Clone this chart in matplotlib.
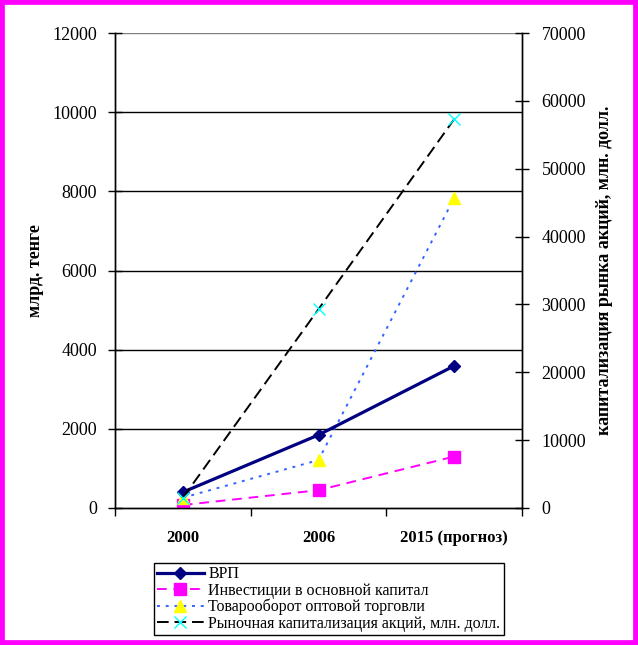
import matplotlib
matplotlib.use("Agg")
import matplotlib.pyplot as plt
from matplotlib.patches import Rectangle

# --------------------------------------------------------------------------
# Data
# --------------------------------------------------------------------------
years = ["2000", "2006", "2015 (прогноз)"]
vrp = [400, 1845, 3590]                # ВРП, млрд. тенге
investments = [75, 450, 1300]          # Инвестиции в основной капитал
trade = [260, 1210, 7830]              # Товарооборот оптовой торговли
capitalization = [1500, 29300, 57300]  # Рыночная капитализация, млн. долл. (right axis)

left_ticks = [0, 2000, 4000, 6000, 8000, 10000, 12000]
right_ticks = [0, 10000, 20000, 30000, 40000, 50000, 60000, 70000]

SERIF = "Liberation Serif"
plt.rcParams["font.family"] = [SERIF, "DejaVu Serif"]

fig = plt.figure(figsize=(6.38, 6.45), dpi=100)
W, H = 638, 645
ax = fig.add_axes([115 / W, 1 - 508 / H, (522 - 115) / W, (508 - 33) / H])
ax2 = ax.twinx()

x = [i + 0.5 for i in range(len(years))]

l1, = ax.plot(x, vrp, color="#000080", lw=2.3, marker="D", ms=6.5,
              label="ВРП", zorder=5)
l2, = ax.plot(x, investments, color="#FF00FF", lw=1.4, ls=(0, (5, 3.5)),
              marker="s", ms=8, label="Инвестиции в основной капитал", zorder=4)
l3, = ax.plot(x, trade, color="#3366FF", lw=1.4, ls=(0, (1.5, 3)),
              marker="^", ms=8.5, mfc="#FFFF00", mec="#FFFF00",
              label="Товарооборот оптовой торговли", zorder=4)
l4, = ax2.plot(x, capitalization, color="black", lw=1.4, ls=(0, (6, 3)),
               marker="x", ms=8, mec="#00FFFF", mew=1.0,
               label="Рыночная капитализация акций, млн. долл.", zorder=4)

# axes / scales
ax.set_xlim(0, len(years))
ax.set_ylim(0, 12000)
ax2.set_ylim(0, 70000)
ax.set_yticks(left_ticks)
ax.set_yticklabels([str(v) for v in left_ticks])
ax2.set_yticks(right_ticks)
ax2.set_yticklabels([str(v) for v in right_ticks])

ax.set_xticks(range(len(years) + 1))
ax.set_xticklabels([])
ax.set_xticks(x, minor=True)
ax.set_xticklabels(years, minor=True, fontweight="bold", fontsize=12)
ax.tick_params(axis="x", which="major", direction="out", length=6, width=1)
ax.tick_params(axis="x", which="minor", length=0, pad=16)
ax.tick_params(axis="y", direction="inout", length=10, width=1, labelsize=13, pad=8)
ax2.tick_params(axis="y", direction="inout", length=10, width=1, labelsize=13, pad=9)

for g in left_ticks[1:-1]:
    ax.axhline(g, color="black", lw=1, zorder=1)
ax.axhline(12000, color="#808080", lw=1, zorder=1)

for a in (ax, ax2):
    a.spines["top"].set_visible(False)
    for s in ("left", "right", "bottom"):
        a.spines[s].set_color("black")
        a.spines[s].set_linewidth(1)

ax.set_ylabel("млрд. тенге", fontsize=13, fontweight="bold")
ax.yaxis.set_label_coords(-(115 - 44) / (522 - 115), 0.5)
ax2.set_ylabel("капитализация рынка акций, млн. долл.", fontsize=13,
               fontweight="bold")
ax2.yaxis.set_label_coords(1 + (596 - 522) / (522 - 115), 0.5)

leg = fig.legend(handles=[l1, l2, l3, l4], loc="upper left",
                 bbox_to_anchor=(154 / W, 1 - 563 / H), fontsize=11.5,
                 frameon=True, fancybox=False, framealpha=1, edgecolor="black",
                 handlelength=2.9, handletextpad=0.3, labelspacing=0.02,
                 borderpad=0.2, borderaxespad=0)
leg.get_frame().set_linewidth(1)

# magenta frame around the whole picture
fig.patches.append(Rectangle((0, 0), 1, 1, transform=fig.transFigure,
                             fill=False, edgecolor="#FF00FF", lw=7, zorder=10))

fig.savefig("out.png", dpi=100, facecolor="white")
